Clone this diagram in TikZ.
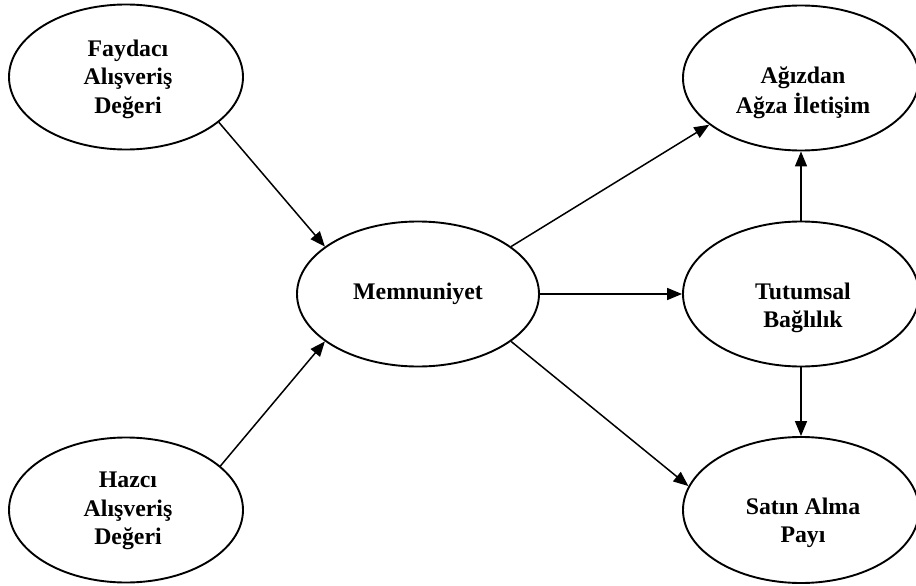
\documentclass[tikz,border=0pt]{standalone}
\usepackage{fontspec}
\setmainfont{Liberation Serif}
\usetikzlibrary{shapes.geometric,arrows.meta}
\begin{document}
\begin{tikzpicture}[x=1pt,y=-1pt,
  construct/.style={ellipse, draw, line width=1.9pt, inner sep=0pt,
    minimum width=234pt, minimum height=145pt},
  caption/.style={align=center, inner sep=0pt,
    font=\fontsize{23.8}{28.5}\selectfont\bfseries},
  link/.style={line width=1.5pt, -{Triangle[length=15pt,width=12pt]}}]
\useasboundingbox (0,0) rectangle (916,586);

% constructs
\node[construct] (fay) at (126,77) {};
\node[caption] (fay-t) at (128,79) {Faydacı\\Alışveriş\\Değeri};

\node[construct] (haz) at (126,510) {};
\node[caption] (haz-t) at (128,511) {Hazcı\\Alışveriş\\Değeri};

\node[construct, minimum width=242pt] (mem) at (418,294) {};
\node[caption] (mem-t) at (418,294) {Memnuniyet};

\node[construct, minimum width=236pt] (agz) at (801,78) {};
\node[caption, font=\fontsize{23.8}{30}\selectfont\bfseries] (agz-t) at (803,93) {Ağızdan\\Ağza İletişim};

\node[construct, minimum width=236pt] (tut) at (801,294) {};
\node[caption] (tut-t) at (803,308) {Tutumsal\\Bağlılık};

\node[construct, minimum width=236pt, minimum height=146pt] (sat) at (801,510) {};
\node[caption] (sat-t) at (803,523) {Satın Alma\\Payı};

% paths
\draw[link] (fay.-26) -- (mem.153);
\draw[link] (haz.25) -- (mem.207);
\draw[link] (mem.27) -- (agz.207);
\draw[link] (mem.east) -- (tut.west);
\draw[link] (mem.-27) -- (sat.168);
\draw[link] (tut.north) -- (agz.south);
\draw[link] (tut.south) -- (sat.north);
\end{tikzpicture}
\end{document}
